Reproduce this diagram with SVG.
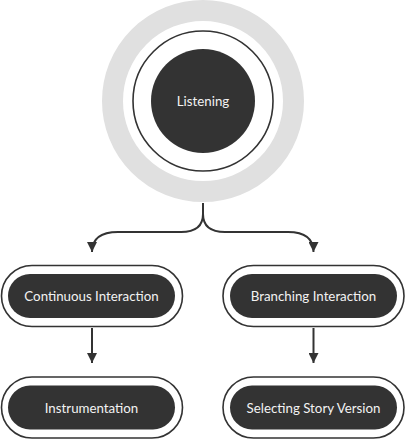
<svg xmlns="http://www.w3.org/2000/svg" width="406" height="439" viewBox="0 0 406 439">
<style>
.outer{fill:#fff;stroke:#333;stroke-width:1.6}
.inner{fill:#333}
.lbl{font-family:Lato,"Noto Sans",sans-serif;font-size:13.3px;fill:#f2f2f2;text-anchor:middle;dominant-baseline:central}
.conn{fill:none;stroke:#333;stroke-width:2}
</style>
<defs>
<marker id="ah" viewBox="0 0 10 10" refX="10" refY="5" markerWidth="10" markerHeight="10" markerUnits="userSpaceOnUse" orient="auto">
<path d="M0,0 L10,5 L0,10 Z" fill="#333"/>
</marker>
</defs>
<rect width="406" height="439" fill="#fff"/>
<g id="listening">
<circle cx="203" cy="101" r="90.5" fill="none" stroke="#e0e0e0" stroke-width="21"/>
<circle cx="203" cy="101" r="70" fill="#fff" stroke="#333" stroke-width="1.6"/>
<circle cx="203" cy="101" r="52" class="inner"/>
<text x="203" y="101" class="lbl">Listening</text>
</g>
<g id="connectors">
<path class="conn" d="M203,203 L203,214 Q203,232 181,232 L118,232 Q92,232 92,252" marker-end="url(#ah)"/>
<path class="conn" d="M203,214 Q203,232 225,232 L288,232 Q313.5,232 313.5,252" marker-end="url(#ah)"/>
<path class="conn" d="M92,328 L92,363" marker-end="url(#ah)"/>
<path class="conn" d="M313.5,328 L313.5,363" marker-end="url(#ah)"/>
</g>
<g id="continuous">
<rect x="1.5" y="265.5" width="181" height="61" rx="30.5" class="outer"/>
<rect x="8" y="274" width="167" height="44" rx="22" class="inner"/>
<text x="91.5" y="296" class="lbl">Continuous Interaction</text>
</g>
<g id="branching">
<rect x="223" y="265.5" width="181" height="61" rx="30.5" class="outer"/>
<rect x="230" y="274" width="167" height="44" rx="22" class="inner"/>
<text x="313.5" y="296" class="lbl">Branching Interaction</text>
</g>
<g id="instrumentation">
<rect x="1.5" y="377" width="181" height="61" rx="30.5" class="outer"/>
<rect x="8" y="385.5" width="167" height="44" rx="22" class="inner"/>
<text x="91.5" y="407.5" class="lbl">Instrumentation</text>
</g>
<g id="selecting">
<rect x="223" y="377" width="181" height="61" rx="30.5" class="outer"/>
<rect x="230" y="385.5" width="167" height="44" rx="22" class="inner"/>
<text x="313.5" y="407.5" class="lbl">Selecting Story Version</text>
</g>
</svg>
